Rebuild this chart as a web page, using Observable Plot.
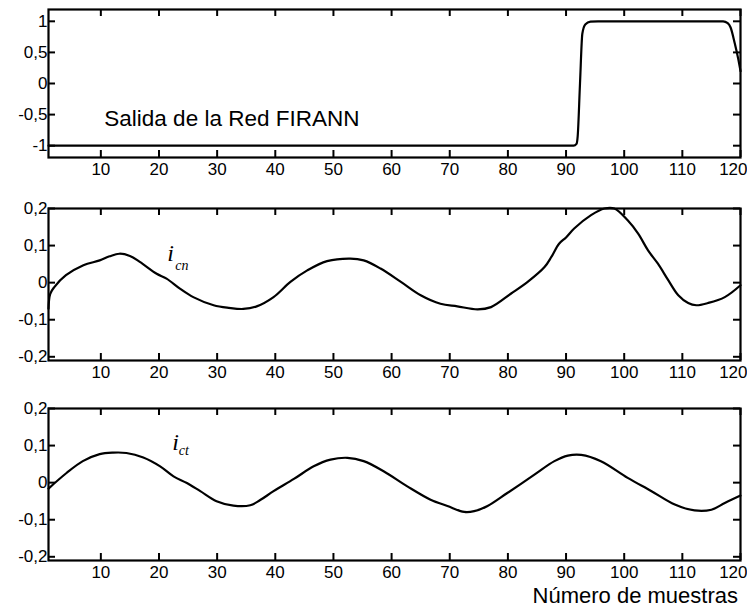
<!DOCTYPE html>
<html><head><meta charset="utf-8">
<script src="https://cdn.jsdelivr.net/npm/d3@7"></script>
<script src="https://cdn.jsdelivr.net/npm/@observablehq/plot@0.6"></script>
<style>
body{margin:0;background:#fff;font-family:"Liberation Sans",Arial,sans-serif;}
#chart{width:747px;}
#chart svg{display:block;overflow:visible}
.xlabel{font-size:22px;line-height:22px;height:23px;text-align:right;padding-right:9px;color:#000}
</style></head><body><div id="chart"></div>
<script>
const xTicks = [10, 20, 30, 40, 50, 60, 70, 80, 90, 100, 110, 120];
const yTicksOut = [-1, -0.5, 0, 0.5, 1];
const yTicksI = [-0.2, -0.1, 0, 0.1, 0.2];

const firannX = [1, 91.3, 91.8, 92.0, 92.4, 92.8, 93.3, 94.2, 95.5, 117, 117.8, 118.3, 119, 119.6, 120];
const firannY = [-1, -1, -0.97, -0.85, 0.0, 0.8, 0.95, 0.995, 1, 1, 0.97, 0.9, 0.65, 0.4, 0.2];

const icnX = [1, 1.3, 2, 4, 7, 9.8, 11.5, 13.2, 15, 16.7, 19.6, 21.3, 23.6, 25.9, 29.4, 32, 34.5, 36.8, 39.7, 42.6, 45.5, 48.9, 52.9, 55.2, 58.1, 61.6, 65, 68.4, 71.3, 74.8, 77.1, 80.5, 83.4, 86.3, 87.5, 88.8, 90, 91.4, 94.3, 96.6, 98.3, 100.6, 102.4, 104.1, 105.8, 107.6, 109.3, 111, 112.4, 114.4, 117.3, 120];
const icnY = [-0.07, -0.03, -0.012, 0.02, 0.047, 0.06, 0.071, 0.078, 0.072, 0.056, 0.024, 0.011, -0.016, -0.039, -0.061, -0.068, -0.071, -0.064, -0.039, 0.002, 0.033, 0.058, 0.065, 0.06, 0.038, 0.002, -0.034, -0.057, -0.064, -0.072, -0.066, -0.03, 0.002, 0.042, 0.07, 0.105, 0.122, 0.146, 0.182, 0.2, 0.2, 0.168, 0.132, 0.087, 0.051, 0.006, -0.034, -0.055, -0.061, -0.055, -0.039, -0.007];

const ictX = [1, 4.1, 6.9, 9.8, 12.1, 14.4, 17.3, 20.2, 22.5, 24.8, 27.1, 29.9, 32.8, 35.7, 37.4, 39.7, 43.2, 46.6, 49.5, 52.4, 55.2, 58.7, 62.7, 66.7, 69.6, 72.5, 74.2, 76.5, 79.9, 84.5, 88, 90.3, 92.6, 96, 100.6, 104.7, 108.7, 112.1, 115, 117.3, 120];
const ictY = [-0.016, 0.026, 0.058, 0.077, 0.081, 0.08, 0.068, 0.044, 0.017, -0.001, -0.023, -0.05, -0.062, -0.061, -0.047, -0.023, 0.01, 0.044, 0.062, 0.067, 0.058, 0.03, -0.01, -0.046, -0.063, -0.079, -0.077, -0.063, -0.028, 0.021, 0.058, 0.073, 0.075, 0.058, 0.013, -0.023, -0.059, -0.075, -0.073, -0.055, -0.035];

const panelTitle = "Salida de la Red FIRANN";
const xTitle = "Número de muestras";

const W = 747, ML = 48, MR = 7, FS = 17;
const fmt = d => String(d).replace(".", ",");

function panel({xs, ys, yDomain, yTicks, height, marginTop, marginBottom, curve, extra = []}) {
  const data = xs.map((x, i) => ({x, y: ys[i]}));
  const fw = W - ML - MR, fh = height - marginTop - marginBottom, t = 7;
  return Plot.plot({
    width: W, height, marginLeft: ML, marginRight: MR, marginTop, marginBottom,
    style: {fontFamily: "'Liberation Sans', Arial, sans-serif", fontSize: FS + "px", color: "#000", background: "#fff", overflow: "visible"},
    x: {domain: [1, 120]},
    y: {domain: yDomain},
    marks: [
      Plot.tickX(xTicks, {x: d => d, insetTop: fh - t, strokeWidth: 2}),
      Plot.tickX(xTicks, {x: d => d, insetBottom: fh - t, strokeWidth: 2}),
      Plot.tickY(yTicks, {y: d => d, insetRight: fw - t, strokeWidth: 2}),
      Plot.tickY(yTicks, {y: d => d, insetLeft: fw - t, strokeWidth: 2}),
      Plot.axisX(xTicks.slice(0, -1), {tickSize: 0, tickPadding: 5, fontSize: FS, label: null}),
      Plot.axisX(xTicks.slice(-1), {tickSize: 0, tickPadding: 5, fontSize: FS, textAnchor: "end", dx: 7, label: null}),
      Plot.axisY(yTicks, {tickSize: 0, tickPadding: 1, fontSize: FS, tickFormat: fmt, label: null}),
      Plot.line(data, {x: "x", y: "y", curve, strokeWidth: 2.2, stroke: "#000"}),
      Plot.frame({strokeWidth: 2.2}),
      ...extra
    ]
  });
}

const sub = (x, y, main, s, sx, sy) => [
  Plot.text([main], {x: () => x, y: () => y, text: d => d, textAnchor: "start", lineAnchor: "middle", fontSize: 24, fontStyle: "italic", fontFamily: "'Liberation Serif', 'Times New Roman', serif"}),
  Plot.text([s], {x: () => sx, y: () => sy, text: d => d, textAnchor: "start", lineAnchor: "middle", fontSize: 14, fontStyle: "italic", fontFamily: "'Liberation Serif', 'Times New Roman', serif"})
];

const root = document.getElementById("chart");
root.append(panel({
  xs: firannX, ys: firannY, yDomain: [-1.19, 1.19], yTicks: yTicksOut,
  height: 200, marginTop: 9, marginBottom: 43, curve: "monotone-x",
  extra: [Plot.text([panelTitle], {x: () => 10.6, y: () => -0.56, text: d => d, textAnchor: "start", lineAnchor: "middle", fontSize: 22.5})]
}));
root.append(panel({
  xs: icnX, ys: icnY, yDomain: [-0.21, 0.2], yTicks: yTicksI,
  height: 200, marginTop: 8, marginBottom: 40, curve: "catmull-rom",
  extra: sub(21.4, 0.078, "i", "cn", 22.8, 0.047)
}));
root.append(panel({
  xs: ictX, ys: ictY, yDomain: [-0.21, 0.2], yTicks: yTicksI,
  height: 185, marginTop: 8, marginBottom: 25, curve: "catmull-rom",
  extra: sub(22.3, 0.11, "i", "ct", 23.4, 0.086)
}));
const lab = document.createElement("div");
lab.className = "xlabel";
lab.textContent = xTitle;
root.append(lab);
</script></body></html>
